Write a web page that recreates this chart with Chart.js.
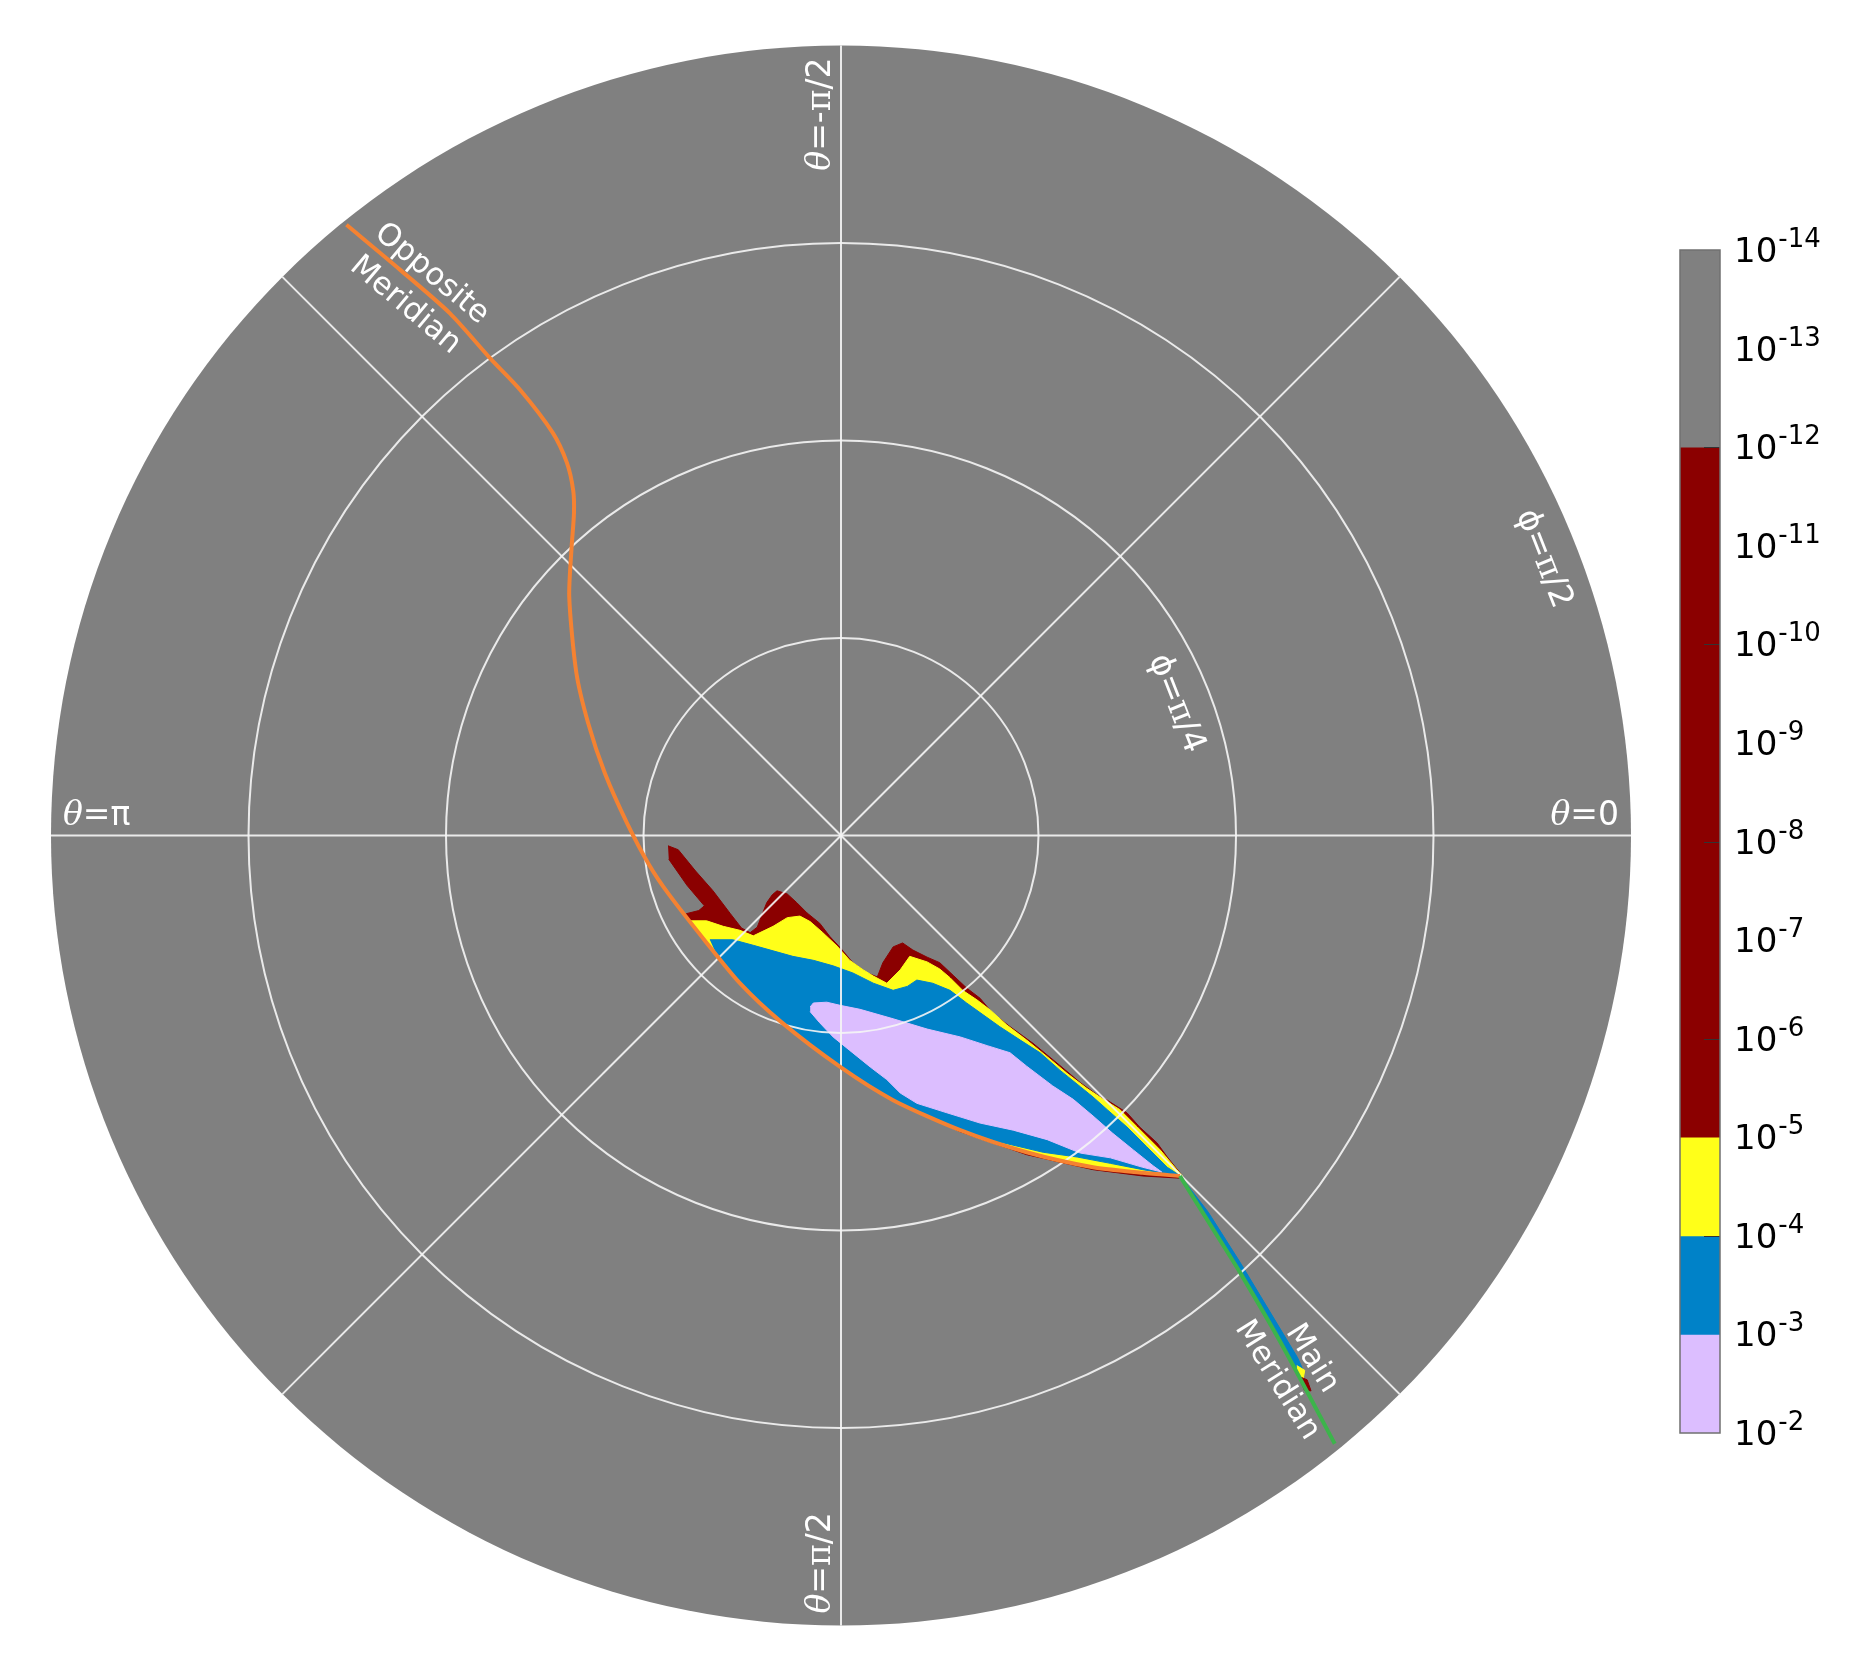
<!DOCTYPE html>
<html><head><meta charset="utf-8">
<script src="https://cdn.jsdelivr.net/npm/chart.js@4.4.1/dist/chart.umd.min.js"></script>
<style>
html,body{margin:0;padding:0;background:#fff;overflow:hidden;}
#wrap{position:relative;width:1876px;height:1679px;}
#wrap canvas{position:absolute;left:0;top:0;}
</style></head><body>
<div id="wrap"><canvas id="polar" width="1876" height="1679"></canvas><canvas id="cbar" width="1876" height="1679"></canvas></div>
<script>
// ---------- DATA (plot coordinates, unit = outer radius φ = π/2; x right, y up) ----------
const ringRadii = [0.25, 0.5, 0.75];          // φ = π/8, π/4, 3π/8
const diskRadius = 1.0;                        // φ = π/2
const spokeAngles = [0, 45, 90, 135, 180, 225, 270, 315];

const oppositeMeridian = [[-0.626,0.773],[-0.558,0.716],[-0.495,0.661],[-0.444,0.604],[-0.406,0.564],[-0.365,0.510],[-0.347,0.472],[-0.339,0.437],[-0.338,0.408],[-0.341,0.365],[-0.344,0.302],[-0.335,0.206],[-0.320,0.142],[-0.299,0.079],[-0.271,0.016],[-0.243,-0.037],[-0.219,-0.073],[-0.170,-0.136],[-0.128,-0.187],[-0.077,-0.235],[-0.001,-0.293],[0.066,-0.335],[0.151,-0.373],[0.235,-0.401],[0.319,-0.420],[0.382,-0.427],[0.429,-0.431]];
const mainMeridian = [[0.429,-0.431],[0.467,-0.492],[0.505,-0.553],[0.560,-0.648],[0.625,-0.770]];

// level regions (outer envelopes): > 1e-12, > 1e-5, > 1e-4, > 1e-3
const regionRed = [[-0.219,-0.013],[-0.206,-0.018],[-0.184,-0.045],[-0.162,-0.070],[-0.140,-0.099],[-0.126,-0.117],[-0.115,-0.123],[-0.106,-0.116],[-0.094,-0.085],[-0.087,-0.075],[-0.081,-0.070],[-0.068,-0.074],[-0.056,-0.085],[-0.043,-0.098],[-0.027,-0.111],[-0.014,-0.128],[-0.001,-0.142],[0.015,-0.161],[0.033,-0.174],[0.046,-0.179],[0.053,-0.161],[0.066,-0.141],[0.078,-0.136],[0.091,-0.145],[0.109,-0.154],[0.125,-0.161],[0.142,-0.177],[0.159,-0.193],[0.176,-0.206],[0.192,-0.225],[0.214,-0.242],[0.243,-0.263],[0.277,-0.291],[0.303,-0.313],[0.328,-0.331],[0.337,-0.335],[0.362,-0.351],[0.378,-0.369],[0.400,-0.389],[0.413,-0.407],[0.429,-0.427],[0.433,-0.434],[0.382,-0.431],[0.319,-0.423],[0.235,-0.404],[0.151,-0.375],[0.066,-0.335],[-0.001,-0.293],[-0.077,-0.235],[-0.128,-0.187],[-0.170,-0.136],[-0.191,-0.109],[-0.196,-0.099],[-0.180,-0.095],[-0.173,-0.089],[-0.195,-0.063],[-0.218,-0.030]];
const regionYellow = [[-0.191,-0.108],[-0.170,-0.108],[-0.149,-0.115],[-0.128,-0.120],[-0.111,-0.127],[-0.086,-0.115],[-0.068,-0.104],[-0.052,-0.102],[-0.039,-0.109],[-0.023,-0.123],[-0.005,-0.140],[0.011,-0.158],[0.028,-0.170],[0.041,-0.178],[0.058,-0.187],[0.075,-0.170],[0.087,-0.153],[0.109,-0.160],[0.125,-0.169],[0.138,-0.180],[0.154,-0.196],[0.172,-0.208],[0.189,-0.221],[0.210,-0.240],[0.235,-0.259],[0.261,-0.280],[0.286,-0.301],[0.311,-0.320],[0.332,-0.334],[0.353,-0.347],[0.375,-0.369],[0.404,-0.398],[0.425,-0.423],[0.432,-0.431],[0.382,-0.428],[0.319,-0.421],[0.235,-0.402],[0.151,-0.374],[0.066,-0.335],[-0.001,-0.293],[-0.077,-0.235],[-0.128,-0.187],[-0.170,-0.136]];
const regionBlue = [[-0.166,-0.132],[-0.137,-0.132],[-0.111,-0.139],[-0.086,-0.146],[-0.061,-0.153],[-0.035,-0.158],[-0.010,-0.165],[0.015,-0.174],[0.041,-0.187],[0.066,-0.196],[0.084,-0.191],[0.096,-0.183],[0.116,-0.187],[0.138,-0.196],[0.159,-0.212],[0.180,-0.227],[0.201,-0.242],[0.227,-0.259],[0.252,-0.275],[0.277,-0.297],[0.303,-0.318],[0.319,-0.331],[0.337,-0.347],[0.362,-0.369],[0.387,-0.394],[0.413,-0.420],[0.430,-0.431],[0.382,-0.423],[0.341,-0.415],[0.299,-0.407],[0.256,-0.401],[0.201,-0.388],[0.151,-0.372],[0.066,-0.334],[-0.001,-0.292],[-0.077,-0.234],[-0.128,-0.185],[-0.156,-0.154]];
const regionLavender = [[-0.039,-0.217],[-0.035,-0.212],[-0.018,-0.211],[-0.001,-0.215],[0.024,-0.220],[0.066,-0.232],[0.109,-0.245],[0.151,-0.255],[0.185,-0.266],[0.214,-0.275],[0.235,-0.292],[0.268,-0.317],[0.294,-0.334],[0.319,-0.355],[0.344,-0.377],[0.370,-0.398],[0.395,-0.418],[0.406,-0.426],[0.382,-0.420],[0.341,-0.408],[0.303,-0.402],[0.261,-0.385],[0.218,-0.373],[0.176,-0.364],[0.134,-0.351],[0.096,-0.339],[0.075,-0.326],[0.058,-0.309],[0.037,-0.293],[0.011,-0.272],[-0.010,-0.255],[-0.027,-0.237],[-0.039,-0.223]];
const streakBlue = [[0.432,-0.434],[0.465,-0.477],[0.505,-0.540],[0.543,-0.603],[0.578,-0.661],[0.586,-0.679],[0.576,-0.677],[0.560,-0.648],[0.505,-0.553],[0.467,-0.492]];
const streakYellow = [[0.577,-0.671],[0.587,-0.677],[0.585,-0.688],[0.577,-0.682]];
const streakRed = [[0.578,-0.684],[0.590,-0.689],[0.595,-0.703],[0.586,-0.702]];

// colour bar
const cbExponents = [-14,-13,-12,-11,-10,-9,-8,-7,-6,-5,-4,-3,-2];
const cbBounds = [1e-14, 1e-12, 1e-5, 1e-4, 1e-3, 1e-2];
const cbColors = ['#808080', '#8b0000', '#ffff19', '#0082c8', '#dcbeff'];
const cbMinorTicks = [-12, -10, -8, -6, -4];

// ---------- helpers ----------
const pts = a => a.map(p => ({x: p[0], y: p[1]}));
const SANS = '"DejaVu Sans", Verdana, sans-serif';
const SERIF = '"DejaVu Serif", serif';

function region(label, data, color, order) {
  return {label, data: pts(data), backgroundColor: color, borderColor: color, borderWidth: 1,
    fill: 'shape', pointRadius: 0, tension: 0, order};
}

function drawRich(ctx, parts, x, y, rot, align, baseline) {
  ctx.save();
  ctx.translate(x, y); ctx.rotate(rot);
  ctx.textBaseline = baseline || 'alphabetic';
  ctx.textAlign = 'left';
  let w = 0;
  parts.forEach(p => { ctx.font = p.f; p.w = ctx.measureText(p.t).width; w += p.w; });
  let sx = align === 'right' ? -w : (align === 'center' ? -w / 2 : 0);
  parts.forEach(p => { ctx.font = p.f; ctx.fillText(p.t, sx, 0); sx += p.w; });
  ctx.restore();
}

const LF = 33, MF = 31;
const th = {t: 'θ', f: `italic ${LF}px ${SERIF}`};
const pi = {t: 'π', f: `${LF}px ${SERIF}`};
const ph = {t: 'ϕ', f: `${LF}px ${SANS}`};
const s = t => ({t, f: `${LF}px ${SANS}`});
const m = t => ({t, f: `${MF}px ${SANS}`});

const thetaLabels = [
  {parts: () => [th, s('=0')], dir: [1, 0], rot: 0},
  {parts: () => [th, s('=π')], dir: [-1, 0], rot: 0},
  {parts: () => [th, s('=-'), pi, s('/2')], dir: [0, -1], rot: -Math.PI / 2},
  {parts: () => [th, s('='), pi, s('/2')], dir: [0, 1], rot: -Math.PI / 2},
];
const phiLabels = [
  {parts: () => [ph, s('='), pi, s('/4')], radius: 0.5},
  {parts: () => [ph, s('='), pi, s('/2')], radius: 1.0},
];
const curveLabels = [
  {lines: ['Opposite', 'Meridian'], at: [-0.535, 0.691], rot: 40},
  {lines: ['Main', 'Meridian'], at: [0.574, -0.676], rot: 58},
];

function drawGrid(chart) {
  const {ctx, scales: {x, y}} = chart;
  const cx = x.getPixelForValue(0), cy = y.getPixelForValue(0);
  const R = x.getPixelForValue(diskRadius) - cx;
  ctx.save();
  ctx.strokeStyle = 'rgba(245,245,245,0.9)';
  ctx.lineWidth = 2;
  ringRadii.forEach(r => {
    ctx.beginPath(); ctx.arc(cx, cy, x.getPixelForValue(r) - cx, 0, 2 * Math.PI); ctx.stroke();
  });
  spokeAngles.forEach(a => {
    const t = a * Math.PI / 180;
    ctx.beginPath(); ctx.moveTo(cx, cy);
    ctx.lineTo(cx + R * Math.cos(t), cy - R * Math.sin(t)); ctx.stroke();
  });
  ctx.restore();
}

const polarPlugin = {
  id: 'polarPlugin',
  beforeDatasetsDraw(chart) {
    const {ctx, scales: {x, y}} = chart;
    const cx = x.getPixelForValue(0), cy = y.getPixelForValue(0);
    const R = x.getPixelForValue(diskRadius) - cx;
    ctx.save();
    ctx.beginPath(); ctx.arc(cx, cy, R, 0, 2 * Math.PI);
    ctx.fillStyle = '#808080'; ctx.fill();
    ctx.restore();
  },
  afterDatasetDraw(chart, args) {
    if (chart.data.datasets[args.index].label === 'streakRed') drawGrid(chart);
  },
  afterDatasetsDraw(chart) {
    const {ctx, scales: {x, y}} = chart;
    const cx = x.getPixelForValue(0), cy = y.getPixelForValue(0);
    const R = x.getPixelForValue(diskRadius) - cx;
    ctx.save();
    ctx.fillStyle = '#ffffff';
    const pad = 12, off = 11;
    thetaLabels.forEach(L => {
      const tdx = Math.cos(L.rot), tdy = Math.sin(L.rot);
      const nx = Math.sin(L.rot), ny = -Math.cos(L.rot);
      const ax = cx + L.dir[0] * (R - pad) + nx * off;
      const ay = cy + L.dir[1] * (R - pad) + ny * off;
      const align = (L.dir[0] * tdx + L.dir[1] * tdy) > 0 ? 'right' : 'left';
      drawRich(ctx, L.parts(), ax, ay, L.rot, align);
    });
    const pa = 21.5 * Math.PI / 180;
    phiLabels.forEach(L => {
      const r = (x.getPixelForValue(L.radius) - cx) - 35;
      drawRich(ctx, L.parts(), cx + r * Math.cos(pa), cy - r * Math.sin(pa), Math.PI / 2 - pa, 'center', 'middle');
    });
    curveLabels.forEach(L => {
      const px = x.getPixelForValue(L.at[0]), py = y.getPixelForValue(L.at[1]);
      const rot = L.rot * Math.PI / 180;
      const nx = Math.sin(rot), ny = -Math.cos(rot);
      const h = 20.5;
      drawRich(ctx, [m(L.lines[0])], px + nx * h, py + ny * h, rot, 'center', 'middle');
      drawRich(ctx, [m(L.lines[1])], px - nx * h, py - ny * h, rot, 'center', 'middle');
    });
    ctx.restore();
  }
};

new Chart(document.getElementById('polar'), {
  type: 'line',
  data: {
    datasets: [
      {label: 'Opposite Meridian', data: pts(oppositeMeridian), borderColor: '#f58231', borderWidth: 4,
        pointRadius: 0, fill: false, tension: 0.25, order: 2},
      {label: 'Main Meridian', data: pts(mainMeridian), borderColor: '#3cb44b', borderWidth: 4,
        pointRadius: 0, fill: false, tension: 0.25, order: 1},
      region('red', regionRed, '#8b0000', 20),
      region('yellow', regionYellow, '#ffff19', 19),
      region('blue', regionBlue, '#0082c8', 18),
      region('lavender', regionLavender, '#dcbeff', 17),
      region('streakBlue', streakBlue, '#0082c8', 16),
      region('streakYellow', streakYellow, '#ffff19', 15),
      region('streakRed', streakRed, '#8b0000', 14),
    ]
  },
  options: {
    responsive: false, animation: false, events: [],
    layout: {padding: {left: 51, right: 245, top: 45.5, bottom: 53.5}},
    scales: {
      x: {type: 'linear', min: -1, max: 1, display: false},
      y: {type: 'linear', min: -1, max: 1, display: false}
    },
    plugins: {legend: {display: false}, tooltip: {enabled: false}}
  },
  plugins: [polarPlugin]
});

// ---------- colour bar ----------
const cbarPlugin = {
  id: 'cbarPlugin',
  afterDatasetsDraw(chart) {
    const {ctx, chartArea: a, scales: {y}} = chart;
    ctx.save();
    ctx.strokeStyle = '#333';
    ctx.lineWidth = 1;
    cbMinorTicks.forEach(e => {
      const py = Math.round(y.getPixelForValue(Math.pow(10, e))) + 0.5;
      ctx.beginPath(); ctx.moveTo(a.right - 16, py); ctx.lineTo(a.right, py); ctx.stroke();
    });
    ctx.strokeStyle = '#707070';
    ctx.lineWidth = 1.5;
    ctx.strokeRect(a.left, a.top, a.right - a.left, a.bottom - a.top);
    ctx.fillStyle = '#000';
    cbExponents.forEach(e => {
      const py = y.getPixelForValue(Math.pow(10, e));
      drawRich(ctx, [{t: '10', f: `34px ${SANS}`}], a.right + 14, py + 12, 0, 'left');
      ctx.font = `34px ${SANS}`;
      const w = ctx.measureText('10').width;
      drawRich(ctx, [{t: '-' + Math.abs(e), f: `26px ${SANS}`}], a.right + 14 + w + 1, py - 3, 0, 'left');
    });
    ctx.restore();
  }
};

new Chart(document.getElementById('cbar'), {
  type: 'bar',
  data: {
    labels: [''],
    datasets: cbColors.map((c, i) => ({
      label: 'band' + i, data: [[cbBounds[i], cbBounds[i + 1]]], backgroundColor: c,
      borderWidth: 0, barPercentage: 1, categoryPercentage: 1, grouped: false
    }))
  },
  options: {
    responsive: false, animation: false, events: [],
    layout: {padding: {left: 1680, right: 156, top: 250, bottom: 246}},
    scales: {
      x: {display: false},
      y: {type: 'logarithmic', min: 1e-14, max: 1e-2, reverse: true, display: false}
    },
    plugins: {legend: {display: false}, tooltip: {enabled: false}}
  },
  plugins: [cbarPlugin]
});
</script>
</body></html>
